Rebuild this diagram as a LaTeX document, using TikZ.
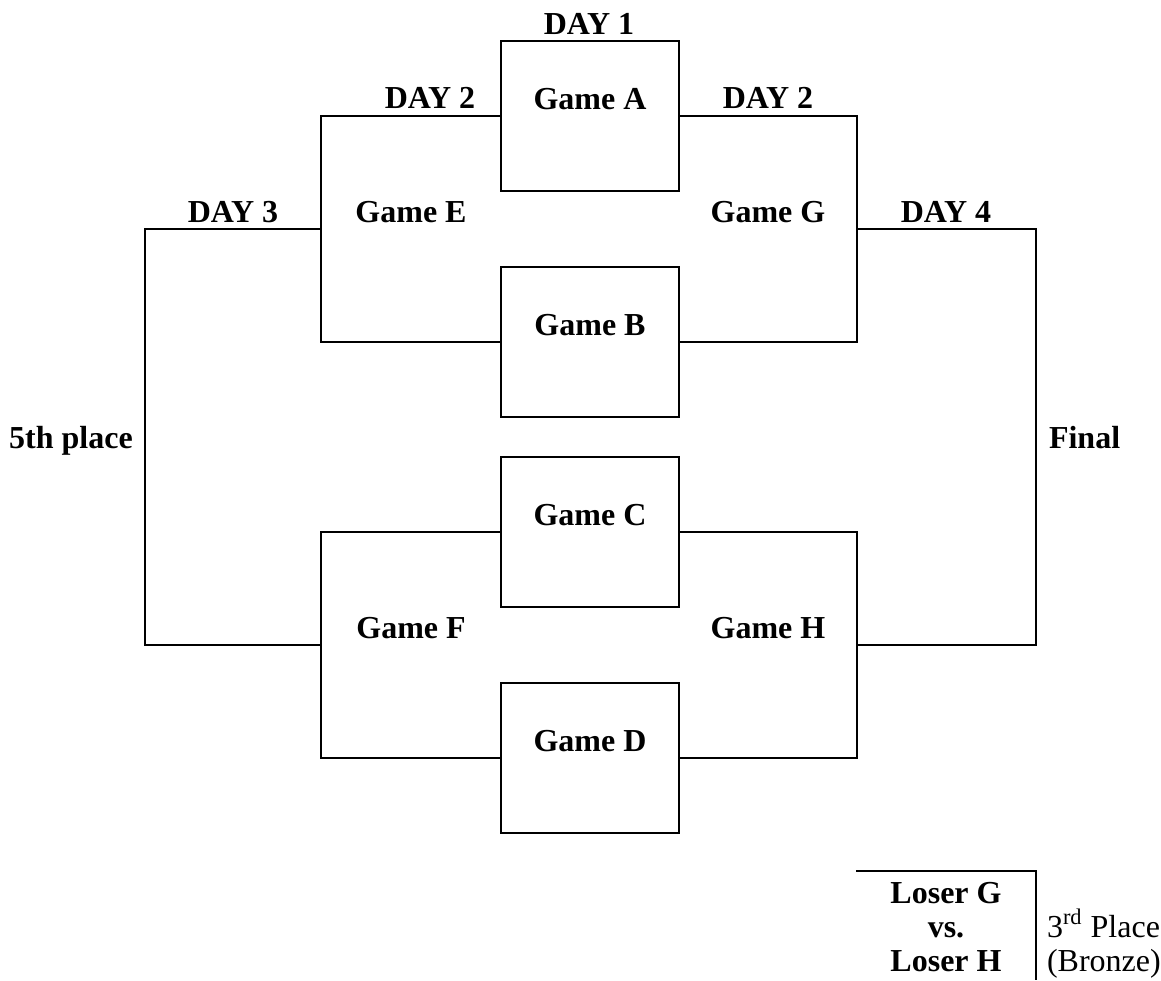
\documentclass[tikz,border=0pt]{standalone}
\usepackage{fontspec}
\setmainfont{Liberation Serif}
\begin{document}
\begin{tikzpicture}[x=0.5pt,y=-0.5pt,line width=1pt,
  gamebox/.style={draw, minimum width=89pt, minimum height=75pt, inner sep=0pt, outer sep=0pt},
  lbl/.style={font=\fontsize{16}{18}\selectfont\bfseries, inner sep=0pt, anchor=base},
  plain/.style={font=\fontsize{16}{18}\selectfont, inner sep=0pt, anchor=base west},
  wire/.style={draw, line join=miter}]
\useasboundingbox (0,0) rectangle (1161,980);
% game boxes
\node[gamebox] (gA) at (590,116) {};
\node[gamebox] (gB) at (590,342) {};
\node[gamebox] (gC) at (590,532) {};
\node[gamebox] (gD) at (590,758) {};
% bracket corners
\coordinate (e1) at (321,116); \coordinate (e2) at (321,342); \coordinate (em) at (321,229);
\coordinate (g1) at (857,116); \coordinate (g2) at (857,342); \coordinate (gm) at (857,229);
\coordinate (f1) at (321,532); \coordinate (f2) at (321,758); \coordinate (fm) at (321,645);
\coordinate (h1) at (857,532); \coordinate (h2) at (857,758); \coordinate (hm) at (857,645);
\coordinate (p1) at (145,229); \coordinate (p2) at (145,645);
\coordinate (q1) at (1036,229); \coordinate (q2) at (1036,645);
\coordinate (b0) at (856,871); \coordinate (b1) at (1036,871); \coordinate (b2) at (1036,980);
% connectors
\draw[wire] (gA.west) -- (e1) -- (e2) -- (gB.west);
\draw[wire] (gA.east) -- (g1) -- (g2) -- (gB.east);
\draw[wire] (gC.west) -- (f1) -- (f2) -- (gD.west);
\draw[wire] (gC.east) -- (h1) -- (h2) -- (gD.east);
\draw[wire] (em) -- (p1) -- (p2) -- (fm);
\draw[wire] (gm) -- (q1) -- (q2) -- (hm);
\draw[wire] (b0) -- (b1) -- (b2);
% labels
\node[lbl] (day1) at (589,34) {DAY 1};
\node[lbl] (day2l) at (430,108) {DAY 2};
\node[lbl] (day2r) at (768,108) {DAY 2};
\node[lbl] (tA) at (590,109) {Game A};
\node[lbl] (day3) at (233,222) {DAY 3};
\node[lbl] (tE) at (411,222) {Game E};
\node[lbl] (tG) at (768,222) {Game G};
\node[lbl] (day4) at (946,222) {DAY 4};
\node[lbl] (tB) at (590,335) {Game B};
\node[lbl] (fifth) at (71,448) {5th place};
\node[lbl, anchor=base west] (final) at (1048,448) {Final};
\node[lbl] (tC) at (590,525) {Game C};
\node[lbl] (tF) at (411,638) {Game F};
\node[lbl] (tH) at (768,638) {Game H};
\node[lbl] (tD) at (590,751) {Game D};
\node[lbl] (lg) at (946,903) {Loser G};
\node[lbl] (vs) at (946,937) {vs.};
\node[lbl] (lh) at (946,971) {Loser H};
\node[plain] (third) at (1046,937) {3\textsuperscript{rd} Place};
\node[plain] (bronze) at (1046,971) {(Bronze)};
\end{tikzpicture}
\end{document}
